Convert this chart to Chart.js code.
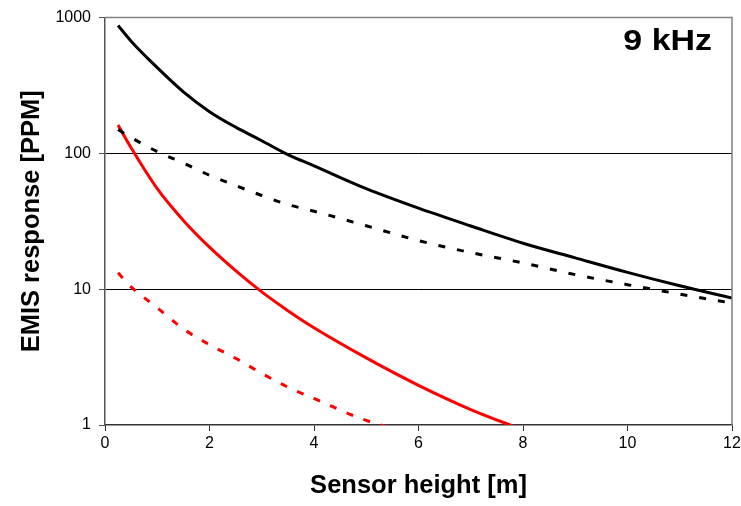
<!DOCTYPE html>
<html>
<head>
<meta charset="utf-8">
<script src="https://cdn.jsdelivr.net/npm/chart.js@4.4.1/dist/chart.umd.min.js"></script>
<style>
  body { margin: 0; background: #fff; }
  #wrap { width: 741px; height: 506px; }
</style>
</head>
<body>
<div id="wrap"><canvas id="emisChart" width="741" height="506"></canvas></div>
<script>
// sensor heights [m]
const heights = [0.25, 0.5, 1, 1.5, 2, 2.5, 3, 3.5, 4, 5, 6, 7, 8, 9, 10, 11, 12];

// EMIS response [PPM]
const blackSolid  = [875, 670, 428, 284, 203, 156, 124, 98, 81, 55, 39.5, 29.2, 21.8, 17, 13.3, 10.6, 8.6];
const blackDashed = [150, 131, 103, 85, 69, 58, 49, 42, 37.5, 29.3, 22.8, 18.6, 15.6, 12.8, 10.8, 9.2, 7.9];
const redSolid    = [162, 110, 55, 32.1, 20.4, 13.7, 9.55, 6.95, 5.2, 3.12, 1.96, 1.3, 0.92, null, null, null, null];
const redDashed   = [13.2, 10.4, 7.3, 5.1, 3.9, 3.1, 2.4, 1.9, 1.57, 1.08, 0.85, null, null, null, null, null, null];

const yTicks = [1, 10, 100, 1000];
const freqLabel = '9 kHz';

function pts(vals) {
    return heights.map((h, i) => ({ x: h, y: vals[i] }));
}

function line(vals, color, dash) {
    return {
        data: pts(vals),
        borderColor: color,
        backgroundColor: color,
        borderWidth: 3,
        borderDash: dash,
        pointRadius: 0,
        cubicInterpolationMode: 'monotone',
        spanGaps: false
    };
}

// frame on top and right + frequency label
const framePlugin = {
    id: 'frame',
    afterDraw(chart) {
        const { ctx, chartArea: a } = chart;
        ctx.save();
        ctx.strokeStyle = '#808080';
        ctx.lineWidth = 1.5;
        ctx.beginPath();
        ctx.moveTo(a.left, a.top);
        ctx.lineTo(a.right, a.top);
        ctx.lineTo(a.right, a.bottom);
        ctx.stroke();
        // label is a bit wide in the original, stretch it
        ctx.fillStyle = '#000';
        ctx.font = 'bold 29px "Liberation Sans", Arial, sans-serif';
        ctx.textAlign = 'right';
        ctx.textBaseline = 'middle';
        ctx.translate(712, 42);
        ctx.scale(1.17, 1);
        ctx.fillText(freqLabel, 0, 0);
        ctx.restore();
    }
};

const ctx = document.getElementById('emisChart').getContext('2d');
new Chart(ctx, {
    type: 'line',
    data: {
        datasets: [
            line(blackSolid, '#000000', []),
            line(blackDashed, '#000000', [7, 12]),
            line(redSolid, '#ff0000', []),
            line(redDashed, '#ff0000', [7, 11])
        ]
    },
    options: {
        responsive: false,
        animation: false,
        layout: { padding: { left: 0, top: 15, right: 0, bottom: 0 } },
        plugins: { legend: { display: false }, tooltip: { enabled: false } },
        scales: {
            x: {
                type: 'linear',
                min: 0,
                max: 12,
                afterFit: s => { s.height = 81; s.paddingRight = 9; },
                ticks: {
                    stepSize: 2,
                    color: '#000',
                    padding: 3,
                    font: { family: '"Liberation Sans", Arial, sans-serif', size: 16 }
                },
                grid: { drawOnChartArea: false, tickLength: 6, tickColor: '#333' },
                border: { color: '#333', width: 1.5 },
                title: {
                    display: true,
                    text: 'Sensor height [m]',
                    color: '#000',
                    padding: { top: 0, bottom: 5 },
                    font: { family: '"Liberation Sans", Arial, sans-serif', size: 25.5, weight: 'bold' }
                }
            },
            y: {
                type: 'logarithmic',
                min: 1,
                max: 1000,
                afterFit: s => { s.width = 105; },
                afterBuildTicks: s => { s.ticks = yTicks.map(v => ({ value: v })); },
                ticks: {
                    color: '#000',
                    padding: 8,
                    callback: v => String(v),
                    font: { family: '"Liberation Sans", Arial, sans-serif', size: 16 }
                },
                grid: {
                    color: c => (c.tick && (c.tick.value === 10 || c.tick.value === 100)) ? '#000' : 'rgba(0,0,0,0)',
                    lineWidth: 1,
                    tickLength: 6,
                    tickColor: '#555'
                },
                border: { color: '#555', width: 1.5 },
                title: {
                    display: true,
                    text: 'EMIS response [PPM]',
                    color: '#000',
                    padding: { top: 17, bottom: 0 },
                    font: { family: '"Liberation Sans", Arial, sans-serif', size: 25.5, weight: 'bold' }
                }
            }
        }
    },
    plugins: [framePlugin]
});
</script>
</body>
</html>
